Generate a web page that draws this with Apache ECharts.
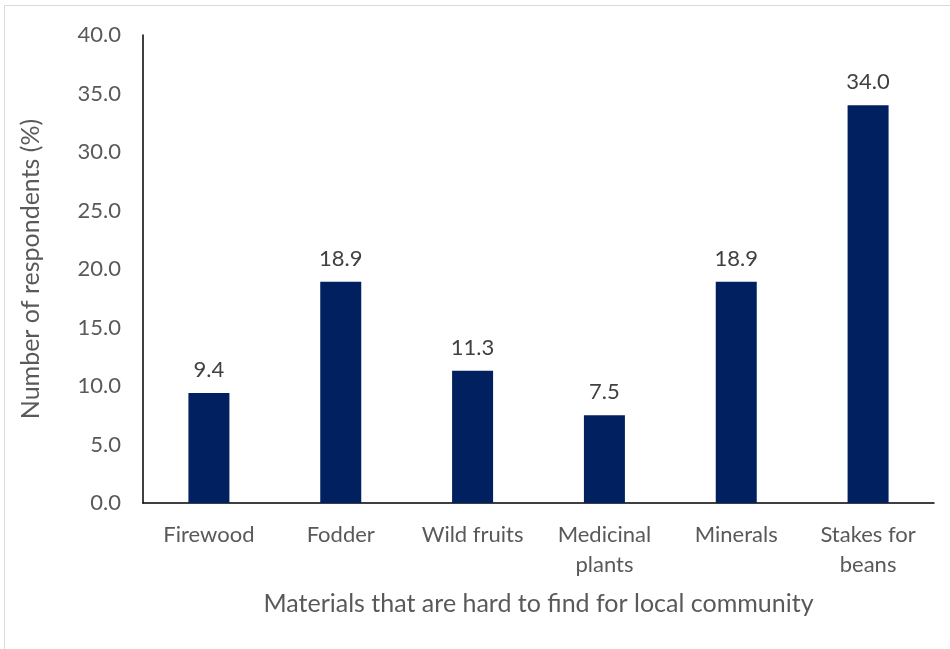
<!DOCTYPE html>
<html>
<head>
<meta charset="utf-8">
<script src="https://cdn.jsdelivr.net/npm/echarts@6/dist/echarts.min.js"></script>
<style>
  html, body { margin: 0; padding: 0; background: #ffffff; }
  #chart { width: 950px; height: 649px; }
</style>
</head>
<body>
<div id="chart"></div>
<script>
// Materials reported as hard to find, with share of respondents (%)
const categories = ['Firewood', 'Fodder', 'Wild fruits', 'Medicinal\nplants', 'Minerals', 'Stakes for\nbeans'];
const respondentShare = [9.4, 18.9, 11.3, 7.5, 18.9, 34.0];
const yTicks = [0, 5, 10, 15, 20, 25, 30, 35, 40];

const FONT = 'Lato, "Noto Sans", sans-serif';
const TEXT = '#595959';

const chart = echarts.init(document.getElementById('chart'), null, { renderer: 'canvas' });

chart.setOption({
  animation: false,
  backgroundColor: '#ffffff',
  graphic: [{
    type: 'rect',
    shape: { x: 4.5, y: 5.5, width: 960, height: 660 },
    style: { fill: 'none', stroke: '#d9d9d9', lineWidth: 1 },
    silent: true
  }],
  grid: { left: 143, right: 16, top: 35, bottom: 146, containLabel: false },
  xAxis: {
    type: 'category',
    data: categories,
    axisLine: { show: true, lineStyle: { color: '#000000', width: 1.5 } },
    axisTick: { show: false },
    axisLabel: {
      color: TEXT, fontFamily: FONT, fontSize: 22, margin: 17, lineHeight: 30, interval: 0
    },
    name: 'Materials that are hard to find for local community',
    nameLocation: 'middle',
    nameGap: 88,
    nameTextStyle: { color: TEXT, fontFamily: FONT, fontSize: 25 }
  },
  yAxis: {
    type: 'value',
    min: yTicks[0],
    max: yTicks[yTicks.length - 1],
    interval: 5,
    axisLine: { show: true, lineStyle: { color: '#000000', width: 1.5 } },
    axisTick: { show: false },
    splitLine: { show: false },
    axisLabel: {
      color: TEXT, fontFamily: FONT, fontSize: 22, margin: 22,
      formatter: v => v.toFixed(1)
    },
    name: 'Number of respondents (%)',
    nameLocation: 'middle',
    nameGap: 100,
    nameTextStyle: { color: TEXT, fontFamily: FONT, fontSize: 25 }
  },
  series: [{
    type: 'bar',
    data: respondentShare,
    barWidth: 41,
    itemStyle: { color: '#002060' },
    label: {
      show: true,
      position: 'top',
      distance: 12,
      color: '#404040',
      fontFamily: FONT,
      fontSize: 22,
      formatter: p => p.value.toFixed(1)
    }
  }]
});
</script>
</body>
</html>
